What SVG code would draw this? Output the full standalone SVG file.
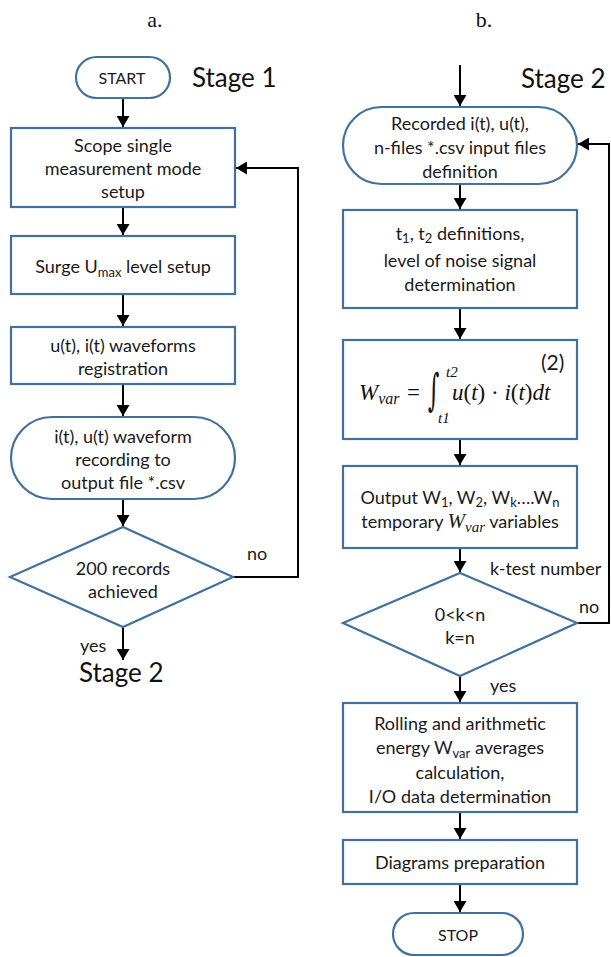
<svg xmlns="http://www.w3.org/2000/svg" width="611" height="957" viewBox="0 0 611 957">
<style>
.n{fill:#fff;stroke:#41719c;stroke-width:2.2}
.t{font-family:Lato,"Liberation Sans",sans-serif;font-size:18px;fill:#1a1a1a;text-anchor:middle}
.l{font-family:Lato,"Liberation Sans",sans-serif;font-size:18px;fill:#1a1a1a}
.st{font-family:Lato,"Liberation Sans",sans-serif;font-size:26px;fill:#111}
.h{font-family:"Liberation Serif",serif;font-size:22px;fill:#111;text-anchor:middle}
.m{font-family:"Liberation Serif","DejaVu Serif",serif;font-style:italic;fill:#111}
.c{fill:none;stroke:#000;stroke-width:2}
</style>
<defs>
<marker id="a" markerUnits="userSpaceOnUse" markerWidth="13" markerHeight="13" refX="11" refY="6.5" orient="auto">
<path d="M0,0 L11,6.5 L0,13 z" fill="#000"/>
</marker>
</defs>
<rect width="611" height="957" fill="#fff"/>
<text class="h" x="155" y="27">a.</text>
<text class="h" x="484" y="27">b.</text>
<text class="st" x="192" y="87">Stage 1</text>
<text class="st" x="521" y="88">Stage 2</text>
<text class="st" x="79" y="682">Stage 2</text>

<g id="connectors">
<line class="c" x1="123" y1="98" x2="123" y2="127" marker-end="url(#a)"/>
<line class="c" x1="123" y1="207" x2="123" y2="235" marker-end="url(#a)"/>
<line class="c" x1="123" y1="294" x2="123" y2="326" marker-end="url(#a)"/>
<line class="c" x1="123" y1="384" x2="123" y2="416" marker-end="url(#a)"/>
<line class="c" x1="123" y1="499" x2="123" y2="526" marker-end="url(#a)"/>
<line class="c" x1="123" y1="627" x2="123" y2="660" marker-end="url(#a)"/>
<polyline class="c" points="233,577 298,577 298,168 236,168" marker-end="url(#a)"/>
<line class="c" x1="460" y1="65" x2="460" y2="106" marker-end="url(#a)"/>
<line class="c" x1="460" y1="184" x2="460" y2="209" marker-end="url(#a)"/>
<line class="c" x1="460" y1="308" x2="460" y2="339" marker-end="url(#a)"/>
<line class="c" x1="460" y1="439" x2="460" y2="465" marker-end="url(#a)"/>
<line class="c" x1="460" y1="548" x2="460" y2="572" marker-end="url(#a)"/>
<line class="c" x1="460" y1="676" x2="460" y2="702" marker-end="url(#a)"/>
<line class="c" x1="460" y1="812" x2="460" y2="839" marker-end="url(#a)"/>
<line class="c" x1="460" y1="884" x2="460" y2="912" marker-end="url(#a)"/>
<polyline class="c" points="577,623 609,623 609,144 578,144" marker-end="url(#a)"/>
<text class="l" x="247" y="560">no</text>
<text class="l" x="80" y="652">yes</text>
<text class="l" x="490" y="575">k-test number</text>
<text class="l" x="579" y="613">no</text>
<text class="l" x="490" y="692">yes</text>
</g>

<g id="start">
<rect class="n" x="76" y="57" width="94" height="41" rx="20.5"/>
<text class="t" x="122" y="84" style="font-size:16px">START</text>
</g>
<g id="scope">
<rect class="n" x="11" y="128" width="224" height="79"/>
<text class="t" x="123" y="152">Scope single</text>
<text class="t" x="123" y="175">measurement mode</text>
<text class="t" x="123" y="198">setup</text>
</g>
<g id="surge">
<rect class="n" x="11" y="236" width="224" height="58"/>
<text class="t" x="123" y="273">Surge U<tspan font-size="13" dy="4">max</tspan><tspan dy="-4"> level setup</tspan></text>
</g>
<g id="waveforms">
<rect class="n" x="11" y="327" width="224" height="57"/>
<text class="t" x="123" y="352">u(t), i(t) waveforms</text>
<text class="t" x="123" y="375">registration</text>
</g>
<g id="recording">
<rect class="n" x="11" y="417" width="224" height="82" rx="41"/>
<text class="t" x="123" y="443">i(t), u(t) waveform</text>
<text class="t" x="123" y="466">recording to</text>
<text class="t" x="123" y="489">output  file *.csv</text>
</g>
<g id="records">
<polygon class="n" points="10,577 123,527 233,577 123,627"/>
<text class="t" x="123" y="575">200 records</text>
<text class="t" x="123" y="598">achieved</text>
</g>

<g id="input">
<rect class="n" x="343" y="107" width="234" height="77" rx="38.5"/>
<text class="t" x="460" y="130">Recorded i(t), u(t),</text>
<text class="t" x="460" y="154">n-files *.csv input files</text>
<text class="t" x="460" y="178">definition</text>
</g>
<g id="tdef">
<rect class="n" x="343" y="210" width="234" height="98"/>
<text class="t" x="460" y="240">t<tspan font-size="13" dy="3">1</tspan><tspan dy="-3">, t</tspan><tspan font-size="13" dy="3">2</tspan><tspan dy="-3"> definitions,</tspan></text>
<text class="t" x="460" y="267">level of noise signal</text>
<text class="t" x="460" y="291">determination</text>
</g>
<g id="formula">
<rect class="n" x="343" y="340" width="234" height="99"/>
<text class="l" x="541" y="370" style="font-size:21px">(2)</text>
<text class="m" x="359" y="400" font-size="23">W<tspan font-size="16" dy="4">var</tspan></text>
<text x="407" y="400" font-family="Liberation Serif,serif" font-size="23" fill="#111">=</text>
<text x="0" y="0" font-family="DejaVu Serif,serif" font-size="22" fill="#111" transform="translate(428,405) scale(1,2)">∫</text>
<text class="m" x="446" y="377" font-size="15">t2</text>
<text class="m" x="438" y="423" font-size="15">t1</text>
<text class="m" x="452" y="400" font-size="23">u<tspan font-style="normal">(</tspan>t<tspan font-style="normal">) · </tspan>i<tspan font-style="normal">(</tspan>t<tspan font-style="normal">)</tspan>dt</text>
</g>
<g id="output">
<rect class="n" x="343" y="466" width="234" height="82"/>
<text class="t" x="460" y="504">Output W<tspan font-size="13" dy="3">1</tspan><tspan dy="-3">, W</tspan><tspan font-size="13" dy="3">2</tspan><tspan dy="-3">, W</tspan><tspan font-size="13" dy="3">k</tspan><tspan dy="-3">….W</tspan><tspan font-size="13" dy="3">n</tspan></text>
<text class="t" x="460" y="528">temporary <tspan font-family="Liberation Serif,serif" font-style="italic" font-size="21">W</tspan><tspan font-family="Liberation Serif,serif" font-style="italic" font-size="15" dy="4">var</tspan><tspan dy="-4"> variables</tspan></text>
</g>
<g id="ktest">
<polygon class="n" points="343,623 460,573 577,623 460,676"/>
<text class="t" x="460" y="621">0&lt;k&lt;n</text>
<text class="t" x="460" y="644">k=n</text>
</g>
<g id="rolling">
<rect class="n" x="343" y="703" width="234" height="109"/>
<text class="t" x="460" y="730">Rolling and arithmetic</text>
<text class="t" x="460" y="754">energy W<tspan font-size="13" dy="4">var</tspan><tspan dy="-4"> averages</tspan></text>
<text class="t" x="460" y="779">calculation,</text>
<text class="t" x="460" y="803">I/O data determination</text>
</g>
<g id="diagrams">
<rect class="n" x="343" y="840" width="234" height="44"/>
<text class="t" x="460" y="869">Diagrams preparation</text>
</g>
<g id="stop">
<rect class="n" x="393" y="913" width="130" height="42" rx="21"/>
<text class="t" x="458" y="941" style="font-size:16px">STOP</text>
</g>
</svg>
